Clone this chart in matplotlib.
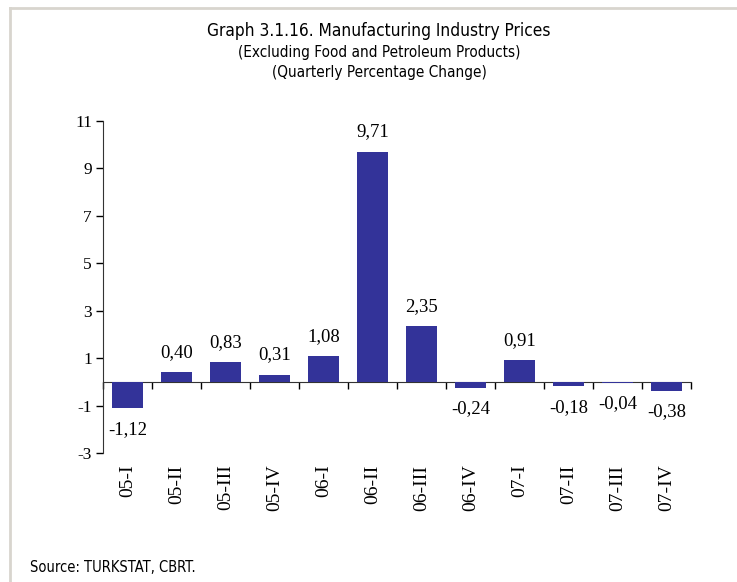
import matplotlib.pyplot as plt
from matplotlib import font_manager
from matplotlib.lines import Line2D
import matplotlib.transforms as mtransforms

# Quarterly data
quarters = ["05-I", "05-II", "05-III", "05-IV", "06-I", "06-II",
            "06-III", "06-IV", "07-I", "07-II", "07-III", "07-IV"]
changes = [-1.12, 0.40, 0.83, 0.31, 1.08, 9.71, 2.35, -0.24, 0.91, -0.18, -0.04, -0.38]
y_ticks = [-3, -1, 1, 3, 5, 7, 9, 11]

# look for a narrow sans font for the titles
narrow_fp = None
for f in font_manager.fontManager.ttflist:
    if "Narrow" in f.name or ("DejaVu" in f.name and "Condensed" in f.fname and "Bold" not in f.fname
                               and "Oblique" not in f.fname):
        narrow_fp = font_manager.FontProperties(fname=f.fname)
        break
is_narrow = narrow_fp is not None
if narrow_fp is None:
    narrow_fp = font_manager.FontProperties(family="Liberation Sans")
serif = "Liberation Serif"

fig = plt.figure(figsize=(7.37, 5.82), dpi=100)
ax = fig.add_axes([103 / 737, 1 - 453 / 582, (691 - 103) / 737, (453 - 121) / 582])

x = list(range(len(quarters)))
ax.bar(x, changes, width=0.63, color="#333399", zorder=3)

ax.set_xlim(-0.5, len(quarters) - 0.5)
ax.set_ylim(-3, 11)
ax.set_yticks(y_ticks)
ax.set_yticklabels([str(t) for t in y_ticks], fontfamily=serif, fontsize=12.5)
ax.tick_params(axis="y", direction="out", length=5, width=1, pad=3)

# x axis sits on zero, ticks between categories
ax.spines["top"].set_visible(False)
ax.spines["right"].set_visible(False)
ax.spines["bottom"].set_position(("data", 0))
ax.spines["left"].set_color("#333333")
ax.spines["bottom"].set_color("#333333")
ax.set_xticks([i - 0.5 for i in range(len(quarters) + 1)])
ax.set_xticklabels([])
ax.tick_params(axis="x", direction="out", length=5, width=1)

# category labels under the plot
trans = mtransforms.blended_transform_factory(ax.transData, ax.transAxes)
for i, q in enumerate(quarters):
    ax.text(i, -0.035, q, transform=trans, rotation=90, ha="center", va="top",
            fontfamily=serif, fontsize=14)

# value labels
for i, v in enumerate(changes):
    txt = f"{v:.2f}".replace(".", ",")
    if v >= 0:
        ax.annotate(txt, (i, v), xytext=(0, 8), textcoords="offset points",
                    ha="center", va="bottom", fontfamily=serif, fontsize=13.5)
    else:
        ax.annotate(txt, (i, v), xytext=(0, -9), textcoords="offset points",
                    ha="center", va="top", fontfamily=serif, fontsize=13.5)

# titles
fp_title = narrow_fp.copy()
fp_title.set_size(12.4 if is_narrow else 12.5)
fp_sub = narrow_fp.copy()
fp_sub.set_size(11.0 if is_narrow else 10.5)
fig.text(379 / 737, 1 - 31 / 582, "Graph 3.1.16. Manufacturing Industry Prices",
         ha="center", va="center", fontproperties=fp_title)
fig.text(379 / 737, 1 - 52 / 582, "(Excluding Food and Petroleum Products)",
         ha="center", va="center", fontproperties=fp_sub)
fig.text(379 / 737, 1 - 73 / 582, "(Quarterly Percentage Change)",
         ha="center", va="center", fontproperties=fp_sub)
fp_src = narrow_fp.copy()
fp_src.set_size(10.5 if is_narrow else 9.5)
fig.text(30 / 737, 1 - 567 / 582, "Source: TURKSTAT, CBRT.",
         ha="left", va="center", fontproperties=fp_src)

# light page frame at top and left
frame = "#d8d5ce"
fig.add_artist(Line2D([9.5 / 737, 1], [1 - 7.5 / 582, 1 - 7.5 / 582],
                      transform=fig.transFigure, color=frame, lw=2))
fig.add_artist(Line2D([9.5 / 737, 9.5 / 737], [0, 1 - 7.5 / 582],
                      transform=fig.transFigure, color=frame, lw=2))

plt.savefig("out.png", dpi=100)
